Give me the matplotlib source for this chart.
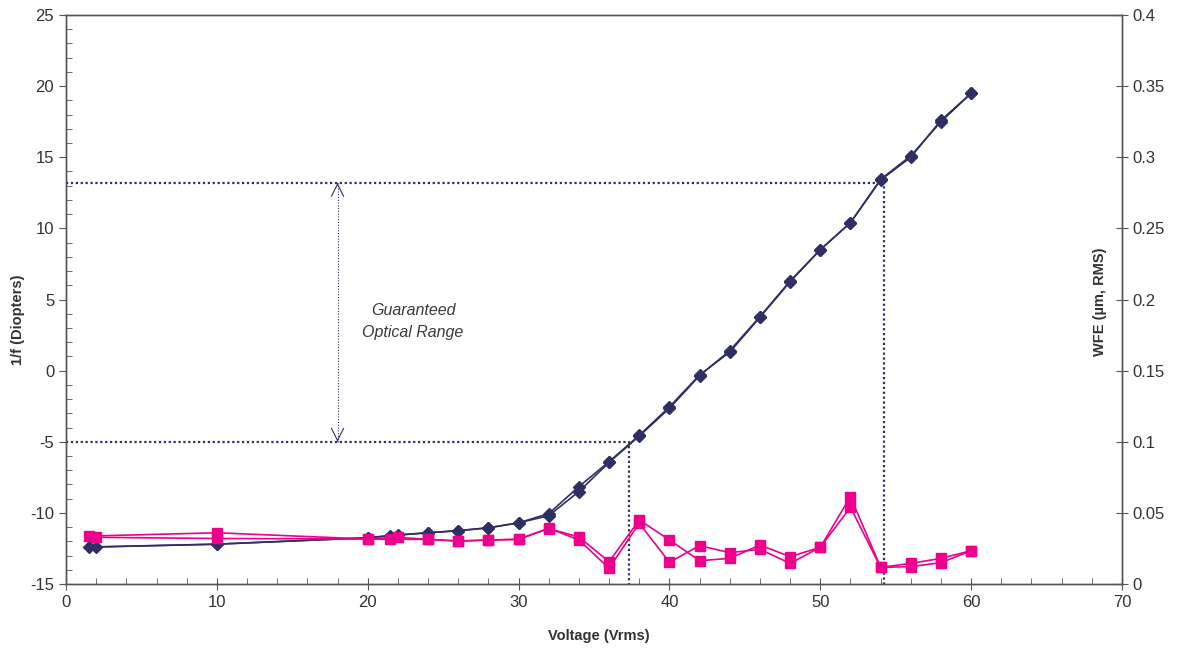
import numpy as np
import matplotlib.pyplot as plt
from matplotlib.ticker import MultipleLocator

plt.rcParams['font.family'] = ['Liberation Sans', 'DejaVu Sans']
plt.rcParams['axes.unicode_minus'] = False

# 1/f (Diopters) - two runs
volt_a = [1.5, 10, 20, 21.5, 24, 26, 28, 30, 32, 34, 36, 38, 40, 42, 44, 46, 48, 50, 52, 54, 56, 58, 60]
volt_b = [2, 10, 20, 22, 24, 26, 28, 30, 32, 34, 36, 38, 40, 42, 44, 46, 48, 50, 52, 54, 56, 58, 60]
power_a = [-12.4, -12.2, -11.75, -11.6, -11.4, -11.25, -11.05, -10.7, -10.05, -8.15, -6.4, -4.55,
           -2.55, -0.3, 1.3, 3.75, 6.25, 8.5, 10.4, 13.45, 15.1, 17.5, 19.5]
power_b = [-12.4, -12.2, -11.75, -11.55, -11.4, -11.25, -11.05, -10.7, -10.2, -8.5, -6.45, -4.6,
           -2.65, -0.35, 1.4, 3.8, 6.3, 8.5, 10.4, 13.4, 15.0, 17.6, 19.5]

# WFE (um RMS) - two runs
wfe_a = [0.0337, 0.036, 0.0316, 0.0314, 0.0314, 0.0302, 0.0309, 0.0314, 0.039, 0.033, 0.0157, 0.045,
         0.031, 0.0164, 0.018, 0.0274, 0.0192, 0.0258, 0.0614, 0.0117, 0.0145, 0.018, 0.0234]
wfe_b = [0.0328, 0.032, 0.0316, 0.0328, 0.0314, 0.0302, 0.0309, 0.0314, 0.0392, 0.031, 0.011, 0.0427,
         0.0153, 0.027, 0.022, 0.0244, 0.0145, 0.0258, 0.0539, 0.0117, 0.0122, 0.015, 0.0234]

# guaranteed optical range
range_lo, range_hi = -5.0, 13.2
volt_lo, volt_hi = 37.3, 54.2

navy = '#2f2f66'
pink = '#ec008c'
grey = '#555555'

fig = plt.figure(figsize=(11.77, 6.5), dpi=100)
ax = fig.add_axes([66 / 1177, 1 - 584 / 650, (1122 - 66) / 1177, (584 - 15) / 650])
ax2 = ax.twinx()

# dotted guide lines
dots = dict(color=navy, lw=1.6, ls=(0, (1, 1.2)), zorder=1)
ax.plot([0, volt_hi, volt_hi], [range_hi, range_hi, -15], **dots)
ax.plot([0, volt_lo, volt_lo], [range_lo, range_lo, -15], **dots)

# arrow for the range
ax.plot([18, 18], [range_lo, range_hi], color=navy, lw=0.8, ls=(0, (1, 1.5)))
for y0, y1 in [(range_hi - 0.3, range_hi), (range_lo + 0.3, range_lo)]:
    ax.annotate('', xy=(18, y1), xytext=(18, y0),
                arrowprops=dict(arrowstyle='->', color=navy, lw=0.8, mutation_scale=22))
ax.text(23.0, 3.45, 'Guaranteed\nOptical Range', style='italic', fontsize=11.5,
        ha='center', va='center', color='#3a3a3a', linespacing=1.65)

ax.plot(volt_a, power_a, color=navy, marker='D', ms=5.8, lw=1.2, zorder=3)
ax.plot(volt_b, power_b, color=navy, marker='D', ms=5.8, lw=1.2, zorder=3)
ax2.plot(volt_a, wfe_a, color=pink, marker='s', ms=7.8, lw=1.2, zorder=3)
ax2.plot(volt_b, wfe_b, color=pink, marker='s', ms=7.8, lw=1.2, zorder=3)

ax.set_xlim(0, 70)
ax.set_ylim(-15, 25)
ax2.set_ylim(0, 0.4)
ax.xaxis.set_major_locator(MultipleLocator(10))
ax.xaxis.set_minor_locator(MultipleLocator(2))
ax.yaxis.set_major_locator(MultipleLocator(5))
ax.yaxis.set_minor_locator(MultipleLocator(1))
ax2.set_yticks(np.arange(0, 0.401, 0.05))
ax2.set_yticklabels(['0', '0.05', '0.1', '0.15', '0.2', '0.25', '0.3', '0.35', '0.4'])

ax.tick_params(axis='x', which='major', direction='inout', length=8, color=grey, labelsize=12,
               labelcolor='#333333', pad=4)
ax.tick_params(axis='x', which='minor', direction='in', length=4, color=grey)
ax.tick_params(axis='y', which='major', direction='out', length=5, color=grey, labelsize=12,
               labelcolor='#333333')
ax.tick_params(axis='y', which='minor', direction='in', length=4, color=grey)
ax2.tick_params(axis='y', which='major', direction='inout', length=8, color=grey, labelsize=12,
                labelcolor='#333333')

for a in (ax, ax2):
    for s in a.spines.values():
        s.set_color(grey)
        s.set_linewidth(1.0)

fig.text(599 / 1177, 1 - 636 / 650, 'Voltage (Vrms)', fontsize=10.5, fontweight='bold',
         ha='center', va='center', color='#333333')
fig.text(18 / 1177, 1 - 320 / 650, '1/f (Diopters)', fontsize=10.5, fontweight='bold',
         rotation=90, ha='center', va='center', color='#333333')
fig.text(1100 / 1177, 1 - 302 / 650, 'WFE (µm, RMS)', fontsize=10.5, fontweight='bold',
         rotation=90, ha='center', va='center', color='#333333')

plt.savefig('out.png', dpi=100)
